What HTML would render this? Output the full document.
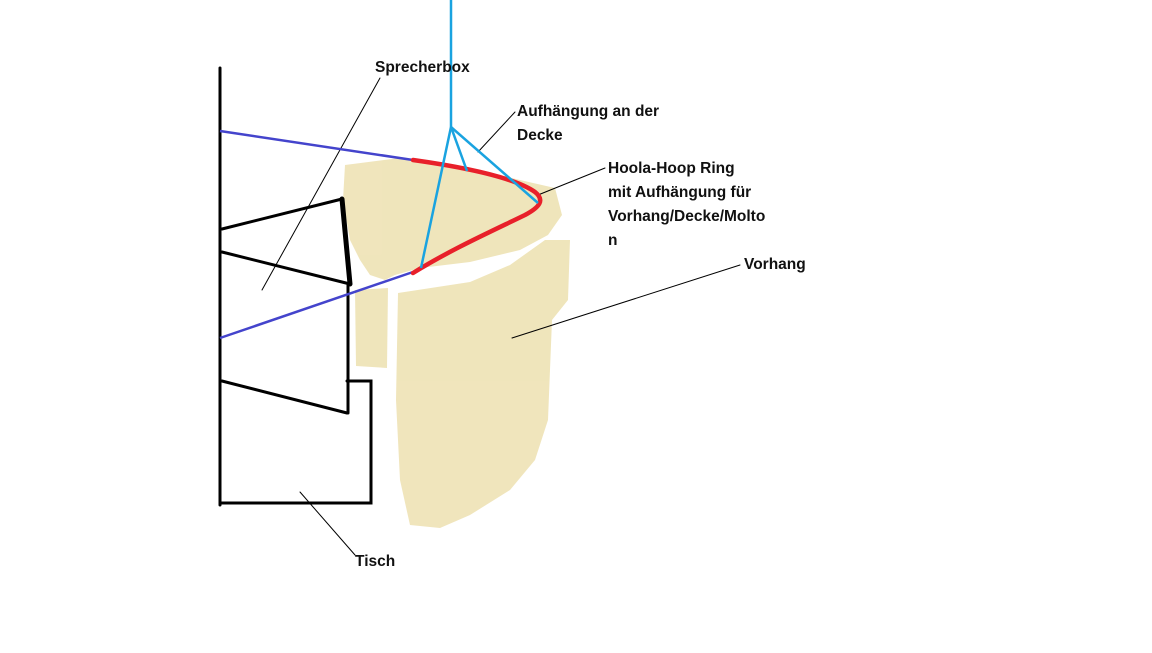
<!DOCTYPE html>
<html><head><style>
body{margin:0;background:#fff;width:1152px;height:648px;overflow:hidden}
text{font-family:"Liberation Sans",sans-serif;font-weight:bold;font-size:15.5px;fill:#111}
</style></head><body>
<svg width="1152" height="648" viewBox="0 0 1152 648">
<g fill="#efe4b8" opacity="0.95">
<path d="M345,165 L400,158 L470,168 L520,180 L555,188 L562,215 L548,235 L520,250 L470,262 L420,268 L395,275 L385,280 L370,275 L360,260 L350,240 L343,200 Z"/>
<path d="M355,290 L388,288 L387,368 L356,366 Z"/>
<path d="M398,293 L470,282 L510,265 L545,240 L570,240 L568,300 L552,320 L548,420 L535,460 L510,490 L470,515 L440,528 L410,525 L400,480 L396,400 Z"/>
</g>
<g stroke="#000" fill="none" stroke-linecap="round">
<path d="M220,68 L220,505" stroke-width="3"/>
<path d="M220,503 L371,503 L371,381 L347,381" stroke-width="3"/>
<path d="M348,284 L348,413" stroke-width="3"/>
<path d="M222,381 L347,413" stroke-width="3"/>
<path d="M222,229 L342,199" stroke-width="3"/>
<path d="M342,199 L350,284" stroke-width="5"/>
<path d="M222,252 L350,284" stroke-width="3"/>
<g stroke-width="1">
<path d="M380,78 L262,290"/>
<path d="M515,112 L478,152"/>
<path d="M605,168 L538,195"/>
<path d="M740,265 L512,338"/>
<path d="M355,555 L300,492"/>
</g>
</g>
<g stroke="#4444cc" stroke-width="2.5" fill="none">
<path d="M220,131 L413,160"/>
<path d="M220,338 L413,272"/>
</g>
<path d="M413,160 C470,168 515,178 535,192 C545,200 540,207 525,215 C490,232 450,250 413,273" stroke="#e8202a" stroke-width="4.5" fill="none" stroke-linecap="round"/>
<g stroke="#1aa3e0" stroke-width="2.5" fill="none">
<path d="M451,0 L451,127"/>
<path d="M451,127 L421,268"/>
<path d="M451,127 L467,171"/>
<path d="M451,127 L538,203"/>
</g>
<text x="375" y="72">Sprecherbox</text>
<text x="517" y="116">Aufhängung an der</text>
<text x="517" y="140">Decke</text>
<text x="608" y="173">Hoola-Hoop Ring</text>
<text x="608" y="197">mit Aufhängung für</text>
<text x="608" y="221">Vorhang/Decke/Molto</text>
<text x="608" y="245">n</text>
<text x="744" y="269">Vorhang</text>
<text x="355" y="566">Tisch</text>
</svg>
</body></html>
